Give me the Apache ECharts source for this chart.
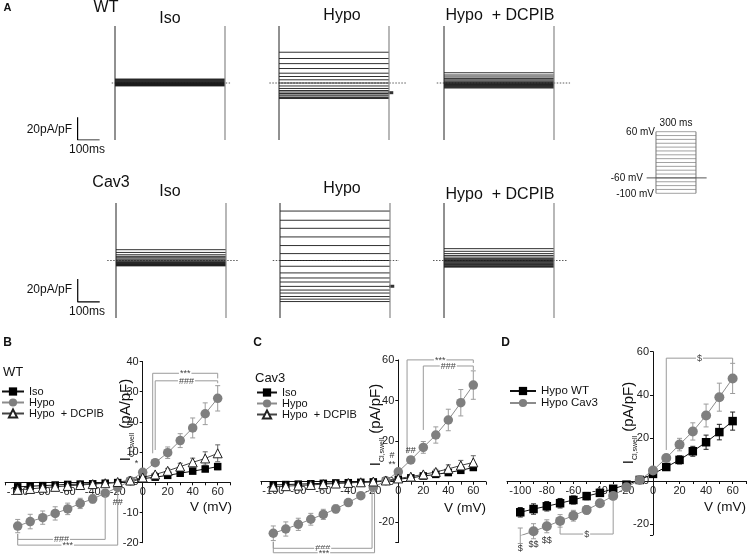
<!DOCTYPE html>
<html>
<head>
<meta charset="utf-8">
<script src="https://cdn.jsdelivr.net/npm/echarts@6/dist/echarts.min.js"></script>
<style>
html, body { margin: 0; padding: 0; background: #fff; }
#chart { width: 748px; height: 557px; }
</style>
</head>
<body>
<div id="chart"></div>
<script>
// test potentials (mV), shared by the I-V curves and the trace families
var volts = [-100, -90, -80, -70, -60, -50, -40, -30, -20, -10, 0, 10, 20, 30, 40, 50, 60];

// B: WT mean current density (pA/pF) and SEM
var wtIso      = [-1.5, -1.3, -1.1, -0.9, -0.7, -0.6, -0.5, -0.3, -0.1, 0.3, 1.2, 1.7, 2.3, 3.0, 3.7, 4.4, 5.2];
var wtIsoErr   = [0.4, 0.4, 0.4, 0.3, 0.3, 0.3, 0.3, 0.2, 0.2, 0.2, 0.3, 0.4, 0.5, 0.6, 0.7, 0.8, 1.0];
var wtHypo     = [-14.5, -13, -11.7, -10.3, -8.8, -7, -5.5, -3.6, -1.7, 0.5, 3.3, 6.5, 9.8, 13.8, 18, 22.7, 27.8];
var wtHypoErr  = [2.2, 2.4, 2.2, 2.2, 1.9, 1.7, 1.4, 1.0, 0.8, 0.4, 0.5, 0.8, 1.9, 2.3, 3.3, 3.6, 4.2];
var wtDcpib    = [-2.5, -2.2, -1.8, -1.5, -1.2, -0.9, -0.6, -0.3, 0.1, 0.6, 1.6, 2.6, 3.8, 5.2, 6.6, 7.9, 9.6];
var wtDcpibErr = [0.6, 0.6, 0.5, 0.5, 0.4, 0.4, 0.3, 0.3, 0.3, 0.3, 0.4, 0.6, 0.8, 1.1, 1.4, 2.2, 2.8];

// C: Cav3
var cavIso      = [-1.6, -1.4, -1.2, -1.0, -0.8, -0.6, -0.5, -0.3, -0.1, 0.3, 1.2, 1.9, 2.8, 3.6, 4.5, 5.6, 7.0];
var cavIsoErr   = [0.4, 0.4, 0.4, 0.3, 0.3, 0.3, 0.3, 0.2, 0.2, 0.2, 0.3, 0.4, 0.6, 0.7, 0.9, 1.0, 1.2];
var cavHypo     = [-25.4, -23.3, -21, -18.5, -16.1, -13.4, -10.3, -6.9, -2.9, 0.5, 4.9, 10.7, 16.9, 23, 30.4, 38.9, 47.6];
var cavHypoErr  = [3.6, 3.5, 3.0, 2.9, 2.5, 2.0, 1.5, 1.0, 0.8, 0.5, 0.8, 1.5, 2.9, 4.0, 5.3, 6.5, 7.0];
var cavDcpib    = [-2.5, -2.2, -1.9, -1.6, -1.2, -0.9, -0.6, -0.3, 0.1, 0.6, 1.6, 2.5, 3.6, 4.8, 6.3, 8.0, 9.5];
var cavDcpibErr = [0.6, 0.6, 0.5, 0.5, 0.4, 0.4, 0.3, 0.3, 0.3, 0.3, 0.4, 0.6, 0.9, 1.3, 2.0, 2.5, 3.3];

// A: example-cell step currents (pA/pF), one per test potential
var trWtIso    = [-2.6, -2.2, -1.9, -1.6, -1.3, -1.0, -0.7, -0.4, -0.1, 0.2, 0.6, 1.0, 1.5, 2.0, 2.5, 3.0, 3.5];
var trWtHypo   = [-13.6, -12.7, -11.4, -10.5, -9.2, -7.9, -6.6, -4.8, -2.6, 0, 2.8, 5.7, 8.6, 12.7, 17, 21.5, 27];
var trWtDcpib  = [-4.4, -3.8, -3.3, -2.8, -2.3, -1.8, -1.3, -0.8, -0.3, 0.3, 1.0, 1.8, 2.8, 4.0, 5.3, 7.0, 9.0];
var trCavIso   = [-4.7, -4.3, -3.9, -3.5, -3.1, -2.7, -2.2, -1.7, -1.1, -0.4, 0.4, 1.3, 2.4, 3.6, 5.0, 7.0, 9.4];
var trCavHypo  = [-35.7, -33.6, -31.3, -28.3, -25.7, -22.5, -18.7, -15.2, -10.8, -5, 0, 6, 13, 20.5, 28, 35, 43];
var trCavDcpib = [-5.8, -5.2, -4.6, -4.0, -3.4, -2.8, -2.2, -1.5, -0.8, 0, 0.8, 1.8, 3.0, 4.4, 6.0, 8.0, 10.3];
var tailWt = -8.5, tailCav = -22.4;       // holding current at pulse end, Hypo
var pulse = [0, 500];                     // ms
var transient = [-50, 50];                // capacitive spike extent, pA/pF
var scaleBar = [100, 20];                 // ms, pA/pF

// protocol
var protoStep = [0, 300];                 // ms
var protoHold = -60;                      // mV

var FONT = 'Liberation Sans';

// significance brackets
var sigB = [
  { x: [8, 60], y: 36.1, legs: [9.6, 34.4], text: '***' },
  { x: [10, 60], y: 33.6, legs: [10.7, 32.8], text: '###' },
  { x: [-100, -30], y: -18.9, legs: [-17.1, -4.5], text: '###' },
  { x: [-100, -20], y: -20.8, legs: [-17.1, -3.1], text: '***' }
];
var notesB = [
  { x: -5, y: 6.3, text: '*' },
  { x: -20, y: -6.6, text: '##' }
];
var sigC = [
  { x: [7, 60], y: 60, legs: [14, 58.5], text: '***' },
  { x: [20, 60], y: 57, legs: [25.5, 55], text: '###' },
  { x: [-100, -21], y: -32.8, legs: [-29.6, -4.1], text: '###' },
  { x: [-100, -19], y: -35, legs: [-29.6, -4.1], text: '***' }
];
var notesC = [
  { x: 10, y: 15.6, text: '##' },
  { x: -5, y: 12.9, text: '#' },
  { x: -5, y: 8.6, text: '**' }
];
var sigD = [
  { x: [10, 60], y: 57, legs: [14.4, 54.6], text: '$' },
  { x: [-70, -30], y: -24.6, legs: [-21.2, -8.8], text: '$' }
];
var notesD = [
  { x: -100, y: -31.5, text: '$' },
  { x: -90, y: -29.5, text: '$$' },
  { x: -80, y: -27.5, text: '$$' }
];

var chart = echarts.init(document.getElementById('chart'));

var grids = [
  { left: 71, top: 26, width: 176, height: 114 },
  { left: 257, top: 26, width: 154, height: 114 },
  { left: 422, top: 26, width: 154, height: 114 },
  { left: 72, top: 203, width: 176, height: 115 },
  { left: 258, top: 203, width: 154, height: 115 },
  { left: 422, top: 203, width: 154, height: 115 },
  { left: 646, top: 131.7, width: 61.3, height: 61.6 },
  { left: 5.2, top: 361.5, width: 225, height: 181.2 },
  { left: 260.8, top: 359.9, width: 225, height: 182.7 },
  { left: 507, top: 351.7, width: 238.9, height: 183.2 }
];
grids.forEach(function (g) { g.outerBoundsMode = 'none'; g.containLabel = false; });

var xAxes = [], yAxes = [];
function hiddenAxis(min, max, i) {
  return { type: 'value', gridIndex: i, min: min, max: max, show: false };
}
[0, 3].forEach(function (i) { xAxes[i] = hiddenAxis(-200, 600, i); });
[1, 2, 4, 5].forEach(function (i) { xAxes[i] = hiddenAxis(-100, 600, i); });
for (var i = 0; i < 6; i++) yAxes[i] = hiddenAxis(-50, 50, i);
xAxes[6] = hiddenAxis(-75, 385, 6);
yAxes[6] = hiddenAxis(-100, 60, 6);

// I-V axes cross at the origin: shift each axis by the pixel distance of 0 from the grid edge
var ivXRange = [-110, 70];
function ivX(i, yMin, yMax) {
  var g = grids[i];
  return {
    type: 'value', gridIndex: i, min: ivXRange[0], max: ivXRange[1], interval: 10, position: 'bottom',
    offset: -(0 - yMin) / (yMax - yMin) * g.height,
    axisLine: { onZero: false, lineStyle: { color: '#111', width: 1 } },
    axisTick: { length: 3, lineStyle: { color: '#111' } },
    axisLabel: {
      margin: 4, fontSize: 11, color: '#222', fontFamily: FONT,
      formatter: function (v) { return (v % 20 === 0 && v >= -100 && v <= 60) ? v : ''; }
    },
    splitLine: { show: false }
  };
}
function ivY(i, min, max, interval) {
  var g = grids[i];
  var ax = {
    type: 'value', gridIndex: i, min: min, max: max, position: 'left',
    offset: -(0 - ivXRange[0]) / (ivXRange[1] - ivXRange[0]) * g.width,
    axisLine: { onZero: false, lineStyle: { color: '#111', width: 1 } },
    axisTick: { length: 3, lineStyle: { color: '#111' } },
    axisLabel: {
      margin: 4, fontSize: 11, color: '#222', fontFamily: FONT,
      formatter: function (v) { return v % (interval || 20) === 0 ? v : ''; }
    },
    splitLine: { show: false }
  };
  if (interval) ax.interval = interval;
  return ax;
}
xAxes[7] = ivX(7, -20, 40); yAxes[7] = ivY(7, -20, 40, 10);
xAxes[8] = ivX(8, -30, 60); yAxes[8] = ivY(8, -30, 60);
xAxes[9] = ivX(9, -25, 60); yAxes[9] = ivY(9, -25, 60);

var series = [];

// ---- A: current traces ----
function traceRender(color) {
  return function (params, api) {
    var a = api.coord([pulse[0], api.value(1)]);
    var b = api.coord([pulse[1], api.value(1)]);
    return { type: 'line', shape: { x1: a[0], y1: a[1], x2: b[0], y2: b[1] },
      style: { stroke: color, lineWidth: 0.9 } };
  };
}
var tracePanels = [
  { g: 0, levels: trWtIso, base: [-15, 523] },
  { g: 1, levels: trWtHypo, base: [-44, 582], tail: tailWt },
  { g: 2, levels: trWtDcpib, base: [-33, 573] },
  { g: 3, levels: trCavIso, base: [-40, 555] },
  { g: 4, levels: trCavHypo, base: [-33, 541], tail: tailCav },
  { g: 5, levels: trCavDcpib, base: [-50, 560] }
];
tracePanels.forEach(function (p) {
  series.push({
    type: 'custom', xAxisIndex: p.g, yAxisIndex: p.g, silent: true,
    renderItem: traceRender('#1a1a1a'),
    data: p.levels.map(function (l) { return [pulse[0], l]; })
  });
  series.push({
    type: 'line', xAxisIndex: p.g, yAxisIndex: p.g, silent: true, symbol: 'none',
    lineStyle: { color: '#222', width: 1 },
    data: [[pulse[0], transient[0]], [pulse[0], transient[1]]]
  });
  series.push({
    type: 'line', xAxisIndex: p.g, yAxisIndex: p.g, silent: true, symbol: 'none',
    lineStyle: { color: '#888', width: 1.2 },
    data: [[pulse[1], transient[0]], [pulse[1], transient[1]]]
  });
  series.push({
    type: 'line', xAxisIndex: p.g, yAxisIndex: p.g, silent: true, symbol: 'none', z: 1,
    lineStyle: { color: '#333', width: 0.8, type: [1.5, 1.5] },
    data: [[p.base[0], 0], [p.base[1], 0]]
  });
  if (p.tail !== undefined) {
    series.push({
      type: 'scatter', xAxisIndex: p.g, yAxisIndex: p.g, silent: true,
      symbol: 'rect', symbolSize: [5, 3], itemStyle: { color: '#000' },
      data: [[pulse[1] + 8, p.tail]]
    });
  }
});

// scale bars
[{ g: 0, at: [-170, -50] }, { g: 3, at: [-174, -36] }].forEach(function (s) {
  series.push({
    type: 'line', xAxisIndex: s.g, yAxisIndex: s.g, silent: true, symbol: 'none',
    lineStyle: { color: '#000', width: 1.2 },
    data: [[s.at[0], s.at[1] + scaleBar[1]], [s.at[0], s.at[1]], [s.at[0] + scaleBar[0], s.at[1]]]
  });
});

// protocol
series.push({
  type: 'custom', xAxisIndex: 6, yAxisIndex: 6, silent: true,
  renderItem: function (params, api) {
    var a = api.coord([protoStep[0], api.value(1)]);
    var b = api.coord([protoStep[1], api.value(1)]);
    return { type: 'line', shape: { x1: a[0], y1: a[1], x2: b[0], y2: b[1] },
      style: { stroke: '#8a8a8a', lineWidth: 0.8 } };
  },
  data: volts.map(function (v) { return [protoStep[0], v]; })
});
protoStep.forEach(function (t) {
  series.push({
    type: 'line', xAxisIndex: 6, yAxisIndex: 6, silent: true, symbol: 'none',
    lineStyle: { color: '#777', width: 1 },
    data: [[t, volts[0]], [t, volts[volts.length - 1]]]
  });
});
series.push({
  type: 'line', xAxisIndex: 6, yAxisIndex: 6, silent: true, symbol: 'none',
  lineStyle: { color: '#555', width: 1 },
  data: [[-70, protoHold], [380, protoHold]]
});

// ---- B, C, D: I-V curves ----
function pts(y) { return volts.map(function (v, i) { return [v, y[i]]; }); }
function errPts(y, e) { return volts.map(function (v, i) { return [v, y[i], e[i]]; }); }

var styIso = { symbol: 'rect', size: 7.5, fill: '#000', line: '#111', err: '#222' };
var styHypo = { symbol: 'circle', size: 9.5, fill: '#7f7f7f', line: '#8c8c8c', err: '#9c9c9c' };
var styDcpib = { symbol: 'triangle', size: 9, fill: '#fff', border: '#222', line: '#444', err: '#666' };
var styWtD = { symbol: 'rect', size: 8.5, fill: '#000', line: '#111', err: '#222' };
var styCavD = { symbol: 'circle', size: 10, fill: '#7f7f7f', line: '#8c8c8c', err: '#9c9c9c' };

function errRender(params, api) {
  var x = api.value(0), m = api.value(1), e = api.value(2);
  var lo = api.coord([x, m - e]), hi = api.coord([x, m + e]);
  var st = { stroke: api.visual('color'), lineWidth: 1 };
  var w = 2.5;
  return { type: 'group', children: [
    { type: 'line', shape: { x1: lo[0], y1: lo[1], x2: hi[0], y2: hi[1] }, style: st },
    { type: 'line', shape: { x1: lo[0] - w, y1: lo[1], x2: lo[0] + w, y2: lo[1] }, style: st },
    { type: 'line', shape: { x1: hi[0] - w, y1: hi[1], x2: hi[0] + w, y2: hi[1] }, style: st }
  ] };
}
function addIV(name, g, y, e, sty) {
  series.push({
    type: 'custom', name: name + ' sem', xAxisIndex: g, yAxisIndex: g, silent: true, z: 2,
    itemStyle: { color: sty.err }, renderItem: errRender, data: errPts(y, e)
  });
  series.push({
    type: 'line', name: name, xAxisIndex: g, yAxisIndex: g, silent: true, z: 3,
    symbol: sty.symbol, symbolSize: sty.size, showSymbol: true,
    itemStyle: { color: sty.fill, borderColor: sty.border || sty.fill, borderWidth: sty.border ? 1 : 0, opacity: 1 },
    lineStyle: { color: sty.line, width: 1 },
    data: pts(y)
  });
}
addIV('Iso', 7, wtIso, wtIsoErr, styIso);
addIV('Hypo', 7, wtHypo, wtHypoErr, styHypo);
addIV('Hypo  + DCPIB', 7, wtDcpib, wtDcpibErr, styDcpib);
addIV('Iso', 8, cavIso, cavIsoErr, styIso);
addIV('Hypo', 8, cavHypo, cavHypoErr, styHypo);
addIV('Hypo  + DCPIB', 8, cavDcpib, cavDcpibErr, styDcpib);
addIV('Hypo WT', 9, wtHypo, wtHypoErr, styWtD);
addIV('Hypo Cav3', 9, cavHypo, cavHypoErr, styCavD);

function addSig(g, list, notes) {
  series.push({
    type: 'custom', xAxisIndex: g, yAxisIndex: g, silent: true, z: 4,
    renderItem: function (params, api) {
      var b = list[params.dataIndex];
      var p1 = api.coord([b.x[0], b.legs[0]]), p2 = api.coord([b.x[0], b.y]);
      var p3 = api.coord([b.x[1], b.y]), p4 = api.coord([b.x[1], b.legs[1]]);
      var mid = api.coord([(b.x[0] + b.x[1]) / 2, b.y]);
      return { type: 'group', children: [
        { type: 'polyline', shape: { points: [p1, p2, p3, p4] }, style: { stroke: '#9a9a9a', fill: 'none', lineWidth: 1 } },
        { type: 'text', style: { text: b.text, x: mid[0], y: mid[1] + 0.5, align: 'center', verticalAlign: 'middle',
          fill: '#444', fontSize: 9, fontFamily: FONT, backgroundColor: '#fff', padding: [0, 1] } }
      ] };
    },
    data: list.map(function (b) { return [b.x[0], b.y]; })
  });
  series.push({
    type: 'custom', xAxisIndex: g, yAxisIndex: g, silent: true, z: 4,
    renderItem: function (params, api) {
      var n = notes[params.dataIndex];
      var p = api.coord([n.x, n.y]);
      return { type: 'text', style: { text: n.text, x: p[0], y: p[1], align: 'center', verticalAlign: 'middle',
        fill: '#333', fontSize: 9, fontFamily: FONT } };
    },
    data: notes.map(function (n) { return [n.x, n.y]; })
  });
}
addSig(7, sigB, notesB);
addSig(8, sigC, notesC);
addSig(9, sigD, notesD);

// ---- text ----
function txt(x, y, s, size, align, extra) {
  var st = { text: s, fontSize: size, fontFamily: FONT, fill: '#111', align: align || 'center', verticalAlign: 'middle' };
  if (extra) for (var k in extra) st[k] = extra[k];
  return { type: 'text', x: x, y: y, style: st, silent: true };
}
var yName = '{a|I}{b|Cl,swell}{a| (pA/pF)}';
var yRich = { a: { fontSize: 15, fontFamily: FONT, lineHeight: 20 },
  b: { fontSize: 7, fontFamily: FONT, verticalAlign: 'bottom' } };
function yTitle(x, y) {
  return { type: 'text', x: x, y: y, rotation: Math.PI / 2, silent: true,
    style: { text: yName, rich: yRich, fill: '#111', align: 'center', verticalAlign: 'middle' } };
}
var graphic = [
  txt(7.5, 8, 'A', 11, 'center', { fontWeight: 'bold' }),
  txt(106, 8, 'WT', 16),
  txt(170, 19, 'Iso', 16), txt(342, 16, 'Hypo', 16), txt(500, 16, 'Hypo  + DCPIB', 16),
  txt(111, 183, 'Cav3', 16),
  txt(170, 192, 'Iso', 16), txt(342, 189, 'Hypo', 16), txt(500, 195, 'Hypo  + DCPIB', 16),
  txt(72, 130, '20pA/pF', 12, 'right'), txt(87, 150, '100ms', 12),
  txt(72, 290, '20pA/pF', 12, 'right'), txt(87, 312, '100ms', 12),
  txt(676, 123, '300 ms', 10), txt(655, 132, '60 mV', 10, 'right'),
  txt(643, 178, '-60 mV', 10, 'right'), txt(654, 194, '-100 mV', 10, 'right'),
  txt(7.5, 342.5, 'B', 12, 'center', { fontWeight: 'bold' }),
  txt(257.5, 342.5, 'C', 12, 'center', { fontWeight: 'bold' }),
  txt(505.5, 342.5, 'D', 12, 'center', { fontWeight: 'bold' }),
  txt(3, 372, 'WT', 13, 'left'),
  txt(255, 378, 'Cav3', 13, 'left'),
  yTitle(126, 420), yTitle(376, 425), yTitle(629, 423),
  txt(211, 507, 'V (mV)', 13.5), txt(465, 508, 'V (mV)', 13.5), txt(725, 507, 'V (mV)', 13.5)
];

function legendAt(names, left, top, w, size) {
  return {
    data: names, orient: 'vertical', left: left, top: top, padding: 0,
    itemWidth: w, itemHeight: 10.3, itemGap: 0, selectedMode: false,
    textStyle: { fontSize: size, fontFamily: FONT, color: '#111', lineHeight: 9 }
  };
}

chart.setOption({
  animation: false,
  backgroundColor: '#fff',
  textStyle: { fontFamily: FONT },
  grid: grids,
  xAxis: xAxes,
  yAxis: yAxes,
  legend: [
    legendAt(['Iso', 'Hypo', 'Hypo  + DCPIB'], 1, 386, 22, 11),
    legendAt(['Iso', 'Hypo', 'Hypo  + DCPIB'], 256, 387, 20, 11),
    legendAt(['Hypo WT', 'Hypo Cav3'], 509, 385, 26, 11.5)
  ],
  graphic: graphic,
  series: series
});
</script>
</body>
</html>
